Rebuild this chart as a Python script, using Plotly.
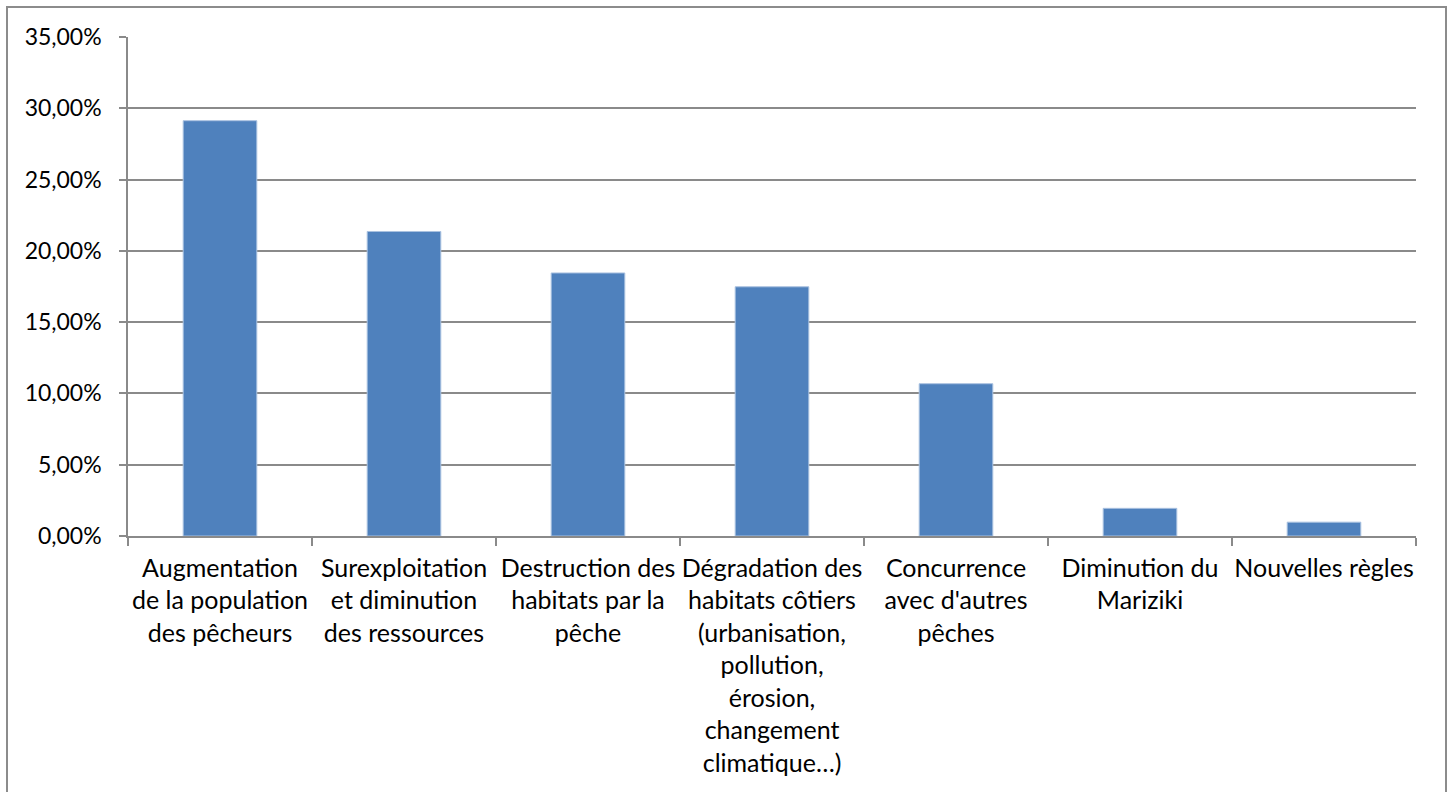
import plotly.graph_objects as go

# Causes cited, share of responses
categories = [
    "Augmentation<br>de la population<br>des pêcheurs",
    "Surexploitation<br>et diminution<br>des ressources",
    "Destruction des<br>habitats par la<br>pêche",
    "Dégradation des<br>habitats côtiers<br>(urbanisation,<br>pollution,<br>érosion,<br>changement<br>climatique…)",
    "Concurrence<br>avec d'autres<br>pêches",
    "Diminution du<br>Mariziki",
    "Nouvelles règles",
]
shares = [0.2913, 0.2136, 0.1845, 0.1748, 0.1068, 0.0194, 0.0097]
y_ticks = [0.0, 0.05, 0.10, 0.15, 0.20, 0.25, 0.30, 0.35]

W, H = 1452, 792
L, R, T, B = 128, 36, 37, 256

fig = go.Figure(
    go.Bar(
        x=categories,
        y=shares,
        width=0.4,
        marker=dict(color="#4F81BD", line=dict(color="#A9C1E0", width=1)),
        hoverinfo="skip",
    )
)

font_family = "Lato, 'Open Sans', sans-serif"

fig.update_layout(
    width=W,
    height=H,
    margin=dict(l=L, r=R, t=T, b=B, pad=0),
    paper_bgcolor="white",
    plot_bgcolor="white",
    separators=", ",
    showlegend=False,
    font=dict(family=font_family, size=24, color="#000000"),
    bargap=0.6,
)

fig.update_yaxes(
    range=[0, 0.35],
    tickvals=y_ticks,
    tickformat=".2%",
    showgrid=True,
    gridcolor="#8A8A8A",
    gridwidth=1.5,
    showline=True,
    linecolor="#8A8A8A",
    linewidth=1.5,
    ticks="outside",
    ticklen=7,
    tickcolor="#8A8A8A",
    tickwidth=1.5,
    zeroline=False,
    tickfont=dict(size=23),
    ticklabelstandoff=13,
)

fig.update_xaxes(
    showline=True,
    linecolor="#8A8A8A",
    linewidth=1.5,
    ticks="outside",
    tickson="boundaries",
    ticklen=8,
    tickcolor="#8A8A8A",
    tickwidth=1.5,
    tickangle=0,
    tickfont=dict(size=25),
    ticklabelstandoff=9,
    showgrid=False,
)

# Outer chart frame
pw = W - L - R
ph = H - T - B
fig.add_shape(
    type="rect",
    xref="paper",
    yref="paper",
    x0=(7 - L) / pw,
    x1=(1446 - L) / pw,
    y0=(H - B - 810) / ph,
    y1=(H - B - 7) / ph,
    line=dict(color="#8C8C8C", width=2),
    fillcolor="rgba(0,0,0,0)",
    layer="below",
)

fig.write_html("out.html")
